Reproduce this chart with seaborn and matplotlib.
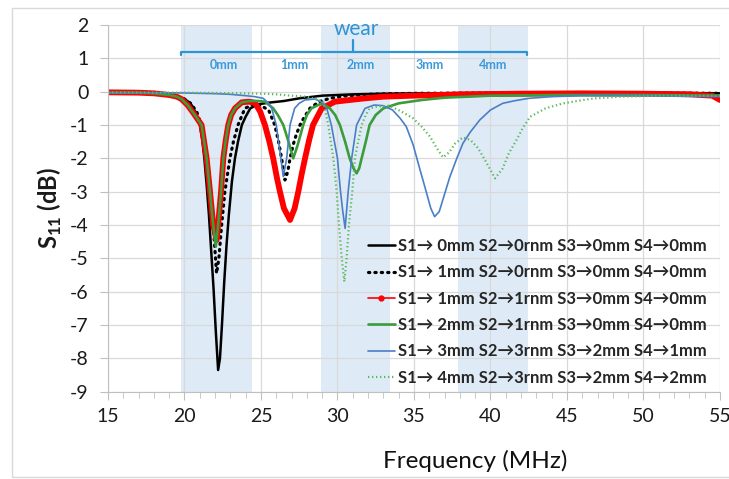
import matplotlib.pyplot as plt
import seaborn as sns
from matplotlib.lines import Line2D
from matplotlib.patches import Rectangle
from matplotlib.ticker import MultipleLocator

# S11 sweeps, values (frequency in MHz, S11 in dB)
f_s0 = [15, 16, 17, 18, 19, 19.5, 20, 20.4, 20.7, 21.0, 21.15, 21.3, 21.45, 21.6, 21.75, 21.9, 22.05, 22.2,
        22.32, 22.45, 22.6, 22.75, 22.9, 23.1, 23.3, 23.5, 23.75, 24.0, 24.3, 24.8, 25.5, 26.5, 27.5, 29, 31,
        33, 36, 40, 45, 50, 55]
s11_s0 = [-0.03, -0.03, -0.04, -0.06, -0.1, -0.15, -0.22, -0.35, -0.6, -1.0, -1.4, -2.0, -2.8, -3.7, -4.8, -5.9,
          -7.2, -8.35, -8.0, -7.0, -5.7, -4.6, -3.7, -2.7, -2.0, -1.5, -1.0, -0.75, -0.5, -0.38, -0.33, -0.28,
          -0.2, -0.12, -0.08, -0.06, -0.05, -0.04, -0.03, -0.03, -0.05]

f_s1 = [15, 17, 18, 19, 19.5, 20, 20.4, 20.8, 21.1, 21.4, 21.65, 21.85, 22.0, 22.1, 22.25, 22.43, 22.64, 22.97,
        23.2, 23.5, 23.95, 24.5, 25.0, 25.5, 25.9, 26.15, 26.35, 26.57, 26.75, 26.9, 27.1, 27.3, 27.55, 27.85,
        28.2, 28.8, 29.5, 30.5, 32, 35, 40, 45, 50, 55]
s11_s1 = [-0.03, -0.04, -0.06, -0.1, -0.15, -0.22, -0.35, -0.6, -1.0, -1.7, -2.7, -3.8, -4.8, -5.45, -5.0, -4.0,
          -3.0, -2.0, -1.5, -1.0, -0.5, -0.38, -0.42, -0.55, -1.0, -1.5, -2.0, -2.65, -2.4, -2.0, -1.6, -1.3,
          -1.0, -0.75, -0.5, -0.3, -0.2, -0.13, -0.08, -0.05, -0.04, -0.04, -0.04, -0.05]

f_s2 = [15, 17, 18, 19, 19.5, 19.8, 20.2, 20.6, 21.12, 21.45, 21.67, 21.88, 22.1, 22.2, 22.39, 22.54, 22.7,
        22.86, 23.05, 23.3, 23.74, 24.2, 24.6, 24.95, 25.26, 25.55, 25.8, 26.05, 26.24, 26.5, 26.9, 27.2, 27.44,
        27.65, 27.88, 28.15, 28.4, 28.97, 29.84, 30.8, 31.8, 33, 35, 38, 42, 46, 50, 53, 54.5, 55]
s11_s2 = [-0.02, -0.03, -0.05, -0.1, -0.15, -0.22, -0.4, -0.65, -1.0, -2.0, -3.0, -4.0, -4.45, -4.0, -3.0, -2.0,
          -1.45, -1.0, -0.7, -0.5, -0.32, -0.3, -0.33, -0.6, -1.0, -1.5, -2.0, -2.6, -3.0, -3.5, -3.85, -3.5,
          -3.0, -2.5, -2.0, -1.45, -1.0, -0.5, -0.3, -0.25, -0.2, -0.15, -0.12, -0.08, -0.06, -0.05, -0.06,
          -0.08, -0.12, -0.25]

f_s3 = [15, 17, 18, 19, 19.5, 19.8, 20.2, 20.6, 21.12, 21.45, 21.67, 21.88, 22.05, 22.2, 22.39, 22.54, 22.7,
        22.86, 23.05, 23.3, 23.74, 24.3, 24.8, 25.26, 25.8, 26.1, 26.46, 26.8, 27.11, 27.4, 27.76, 28.0, 28.3,
        28.97, 29.5, 29.85, 30.16, 30.5, 30.8, 31.05, 31.25, 31.42, 31.58, 31.85, 32.1, 32.5, 33.0, 34, 35.5,
        37, 40, 45, 50, 55]
s11_s3 = [-0.03, -0.03, -0.05, -0.1, -0.15, -0.22, -0.4, -0.65, -1.0, -2.0, -3.0, -4.0, -4.65, -4.0, -3.0, -2.0,
          -1.45, -1.0, -0.7, -0.5, -0.32, -0.28, -0.28, -0.3, -0.5, -0.7, -1.0, -1.5, -2.0, -1.6, -1.0, -0.7,
          -0.5, -0.35, -0.5, -0.7, -1.0, -1.5, -2.0, -2.3, -2.45, -2.3, -2.0, -1.5, -1.0, -0.7, -0.5, -0.35,
          -0.25, -0.18, -0.12, -0.1, -0.1, -0.12]

f_s4 = [15, 18, 20, 22, 23, 24, 24.6, 25.15, 25.5, 25.7, 26.0, 26.3, 26.46, 26.68, 26.9, 27.2, 27.5, 27.87,
        28.5, 28.95, 29.3, 29.6, 30.0, 30.2, 30.35, 30.5, 30.7, 30.93, 31.25, 31.8, 32.4, 33.0, 33.6, 34.1,
        34.5, 34.95, 35.4, 35.8, 36.1, 36.35, 36.65, 36.95, 37.35, 37.8, 38.2, 38.7, 39.3, 40.0, 40.8, 41.6,
        42.5, 44, 46, 50, 55]
s11_s4 = [-0.03, -0.03, -0.04, -0.06, -0.08, -0.12, -0.15, -0.2, -0.35, -0.5, -1.0, -2.0, -2.55, -2.0, -1.0,
          -0.5, -0.35, -0.25, -0.22, -0.3, -0.5, -1.0, -2.0, -3.0, -3.6, -4.1, -3.0, -2.0, -1.0, -0.5, -0.4,
          -0.42, -0.55, -0.8, -1.05, -1.6, -2.35, -3.0, -3.5, -3.75, -3.6, -3.15, -2.55, -2.0, -1.55, -1.2,
          -0.85, -0.55, -0.35, -0.27, -0.2, -0.15, -0.12, -0.12, -0.15]

f_s5 = [15, 18, 20, 22, 24, 25, 26, 27, 28, 28.6, 29.07, 29.4, 29.73, 29.95, 30.1, 30.28, 30.45, 30.6, 30.75,
        30.97, 31.14, 31.35, 31.58, 31.85, 32.1, 32.6, 33.4, 34.2, 34.95, 35.5, 36.05, 36.5, 36.9, 37.3, 37.7,
        38.2, 38.7, 39.2, 39.7, 40.3, 40.8, 41.2, 41.7, 42.1, 42.6, 43.6, 44.75, 45.8, 46.8, 48.5, 51, 55]
s11_s5 = [-0.02, -0.03, -0.03, -0.04, -0.05, -0.06, -0.08, -0.12, -0.15, -0.22, -0.3, -1.0, -2.0, -3.0, -4.0,
          -5.0, -5.7, -5.0, -4.0, -3.0, -2.0, -1.5, -1.0, -0.7, -0.5, -0.45, -0.42, -0.6, -0.8, -1.05, -1.35,
          -1.7, -1.97, -1.82, -1.55, -1.37, -1.45, -1.7, -2.1, -2.6, -2.3, -1.85, -1.45, -1.1, -0.75, -0.5,
          -0.35, -0.27, -0.2, -0.15, -0.12, -0.12]

series_labels = ["S1→ 0mm S2→0rnm S3→0mm S4→0mm",
                 "S1→ 1mm S2→0rnm S3→0mm S4→0mm",
                 "S1→ 1mm S2→1rnm S3→0mm S4→0mm",
                 "S1→ 2mm S2→1rnm S3→0mm S4→0mm",
                 "S1→ 3mm S2→3rnm S3→2mm S4→1mm",
                 "S1→ 4mm S2→3rnm S3→2mm S4→2mm"]

# shaded sensor windows and the wear labels above them
band_edges = [(19.75, 24.43), (28.92, 33.43), (37.86, 42.43)]
wear_labels = ["0mm", "1mm", "2mm", "3mm", "4mm"]
wear_pos = [22.6, 27.18, 31.54, 36.0, 40.18]

sns.set_style("whitegrid", {"grid.color": "#d9d9d9", "axes.edgecolor": "#bfbfbf"})
plt.rcParams['font.family'] = ['Lato', 'DejaVu Sans']
plt.rcParams['axes.unicode_minus'] = False
plt.rcParams['mathtext.fontset'] = 'custom'
plt.rcParams['mathtext.rm'] = 'Lato'
plt.rcParams['mathtext.bf'] = 'Lato:bold'

fig = plt.figure(figsize=(7.29, 4.79), dpi=100)
ax = fig.add_axes([0.1481, 0.1823, 0.8395, 0.7655])

for lo, hi in band_edges:
    ax.axvspan(lo, hi, color="#deebf7", zorder=0.2, lw=0)

styles = [dict(color="black", lw=1.8, ls="-"),
          dict(color="black", lw=2.3, ls=(0, (0.4, 1.6)), dash_capstyle="round"),
          dict(color="#ff0000", lw=4.2, ls="-"),
          dict(color="#3a9c3a", lw=1.9, ls="-"),
          dict(color="#4a7ec7", lw=1.2, ls="-"),
          dict(color="#5cb85c", lw=1.6, ls=(0, (0.6, 1.2)))]
xs = [f_s0, f_s1, f_s2, f_s3, f_s4, f_s5]
ys = [s11_s0, s11_s1, s11_s2, s11_s3, s11_s4, s11_s5]

handles = []
for x, y, st in zip(xs, ys, styles):
    sns.lineplot(x=x, y=y, ax=ax, sort=False, estimator=None, **st)
    handles.append(ax.lines[-1])
# red legend key is thin with a dot, like the original
handles[2] = Line2D([], [], color="#ff0000", lw=1.2, marker="o", markersize=3.5)

# wear bracket
blue = "#2e94d4"
ax.plot([19.75, 19.75, 42.37, 42.37], [1.1, 1.18, 1.18, 1.1], color=blue, lw=1.6)
ax.plot([31.03, 31.03], [1.18, 1.55], color=blue, lw=1.6)
ax.text(31.25, 1.88, "wear", color=blue, fontsize=15, ha="center", va="center")
for lab, xp in zip(wear_labels, wear_pos):
    ax.text(xp, 0.8, lab, color="#3c9ad8", fontsize=9, fontweight="bold", ha="center", va="center")

ax.set_xlim(15, 55)
ax.set_ylim(-9, 2)
ax.xaxis.set_major_locator(MultipleLocator(5))
ax.xaxis.set_minor_locator(MultipleLocator(1))
ax.yaxis.set_major_locator(MultipleLocator(1))
ax.grid(True, which="major", color="#d9d9d9", lw=0.9, zorder=0.5)
ax.grid(False, which="minor")
for side in ["top", "right"]:
    ax.spines[side].set_visible(False)
ax.tick_params(axis="both", which="both", direction="out", color="#bfbfbf", labelcolor="#1a1a1a",
               labelsize=14)
ax.tick_params(axis="x", which="major", length=6, bottom=True, pad=6)
ax.tick_params(axis="x", which="minor", length=4, bottom=True)
ax.tick_params(axis="y", which="major", length=6, left=True, pad=8)

ax.set_xlabel("Frequency (MHz)", fontsize=17.5, color="#111111", labelpad=8)
ax.xaxis.set_label_coords(0.6, -0.16)
ax.set_ylabel(r"S$_\mathbf{11}$ (dB)", fontsize=17, fontweight="bold", color="#1a1a1a", labelpad=4)

leg = ax.legend(handles, series_labels, loc="upper left", bbox_to_anchor=(0.425, 0.419), frameon=False,
                prop={"size": 12, "weight": "bold"}, handlelength=1.6, handletextpad=0.2,
                labelspacing=0.62, borderpad=0, borderaxespad=0)

# light border around the whole chart area
fig.patches.append(Rectangle((12 / 729, 2 / 479), 1.0, 469 / 479, transform=fig.transFigure,
                             fill=False, ec="#d9d9d9", lw=1))

fig.savefig("out.png", dpi=100)
